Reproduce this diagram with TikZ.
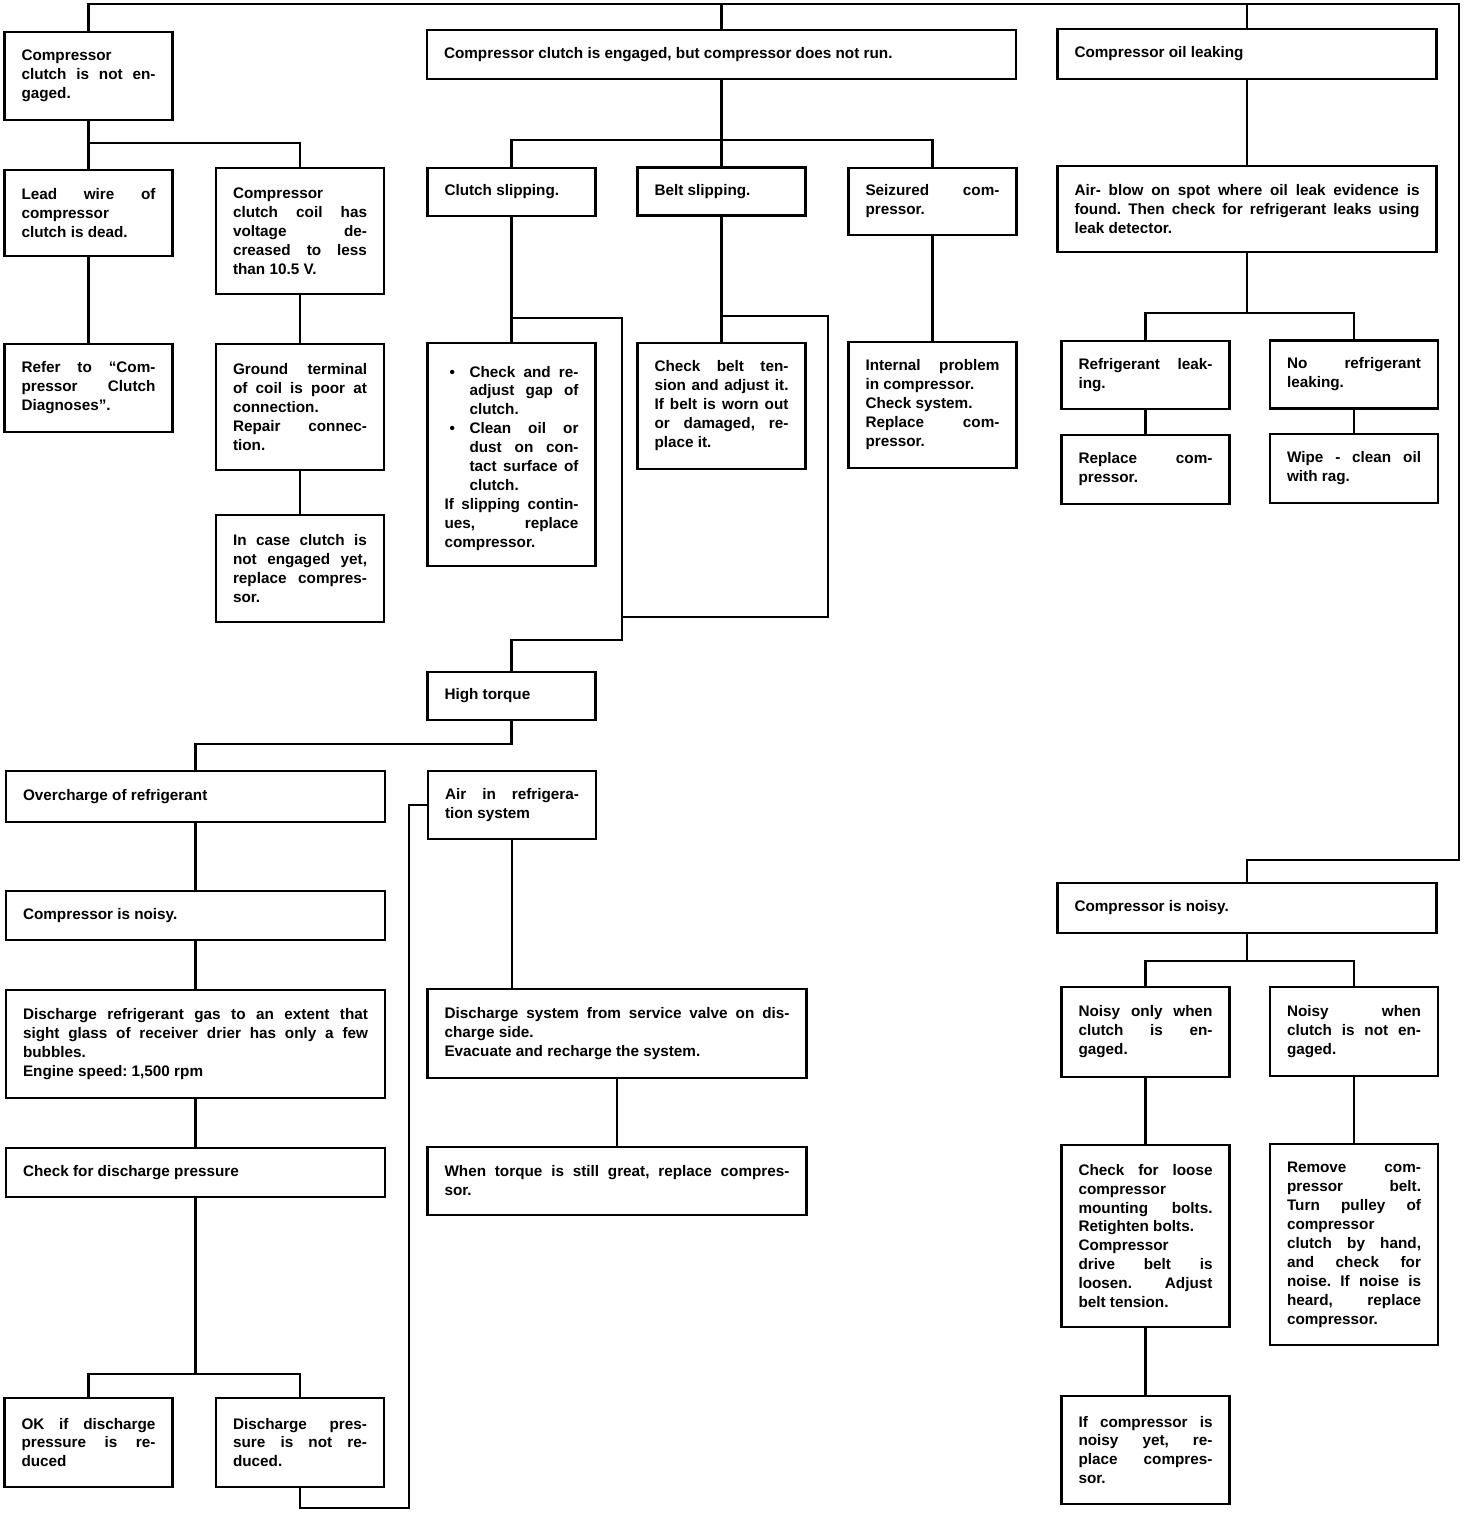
\documentclass[tikz,border=0pt]{standalone}
\usepackage{fontspec}
\setmainfont{Liberation Sans}
\tolerance=10000
\hbadness=10000
\frenchspacing
\newcommand{\chkitem}{\par\noindent\hangindent=0.5cm\hangafter=1\makebox[0.5cm][l]{\hspace{0.1cm}\textbullet}}

\begin{document}
\begin{tikzpicture}[line width=1.4pt,
  tbox/.style={draw, rectangle, line width=1.6pt, inner xsep=0.34cm, inner ysep=2pt, align=justify, font={\fontsize{8.7}{10.8}\selectfont\bfseries\parindent=0pt}},
  narrow/.style={tbox, text width=2.68cm},
  wide/.style={tbox, text width=6.90cm}]
\useasboundingbox (0cm,0cm) rectangle (29.44cm,-30.28cm);
\node[narrow, minimum height=1.76cm] (A1) at (1.77cm,-1.52cm) {Compressor\newline clutch is not en-\linebreak gaged.};
\node[narrow, minimum height=1.72cm] (A2) at (1.77cm,-4.26cm) {Lead wire of\linebreak compressor\newline clutch is dead.};
\node[narrow, minimum height=2.52cm] (A3) at (6.00cm,-4.62cm) {Compressor\newline clutch coil has\linebreak voltage de-\linebreak creased to less\linebreak than 10.5 V.};
\node[narrow, minimum height=1.76cm] (A4) at (1.77cm,-7.76cm) {Refer to ``Com-\linebreak pressor Clutch\linebreak Diagnoses''.};
\node[narrow, minimum height=2.52cm] (A5) at (6.00cm,-8.14cm) {Ground terminal\linebreak of coil is poor at\linebreak connection.\newline Repair connec-\linebreak tion.};
\node[narrow, minimum height=2.14cm] (A6) at (6.00cm,-11.37cm) {In case clutch is\linebreak not engaged yet,\linebreak replace compres-\linebreak sor.};
\node[tbox, text width=11.10cm, minimum height=0.98cm] (B1) at (14.43cm,-1.09cm) {Compressor clutch is engaged, but compressor does not run.};
\node[narrow, minimum height=0.96cm] (B2) at (10.23cm,-3.84cm) {Clutch slipping.};
\node[narrow, minimum height=0.96cm] (B3) at (14.43cm,-3.83cm) {Belt slipping.};
\node[narrow, minimum height=1.34cm] (B4) at (18.65cm,-4.03cm) {Seizured com-\linebreak pressor.};
\node[narrow, minimum height=4.46cm] (B5) at (10.23cm,-9.09cm) {\chkitem Check and re-\linebreak adjust gap of\linebreak clutch.\chkitem Clean oil or\linebreak dust on con-\linebreak tact surface of\linebreak clutch.\par\noindent If slipping contin-\linebreak ues, replace\linebreak compressor.};
\node[narrow, minimum height=2.52cm] (B6) at (14.43cm,-8.12cm) {Check belt ten-\linebreak sion and adjust it.\linebreak If belt is worn out\linebreak or damaged, re-\linebreak place it.};
\node[narrow, minimum height=2.52cm] (B7) at (18.65cm,-8.10cm) {Internal problem\linebreak in compressor.\newline Check system.\newline Replace com-\linebreak pressor.};
\node[narrow, minimum height=0.96cm] (B8) at (10.23cm,-13.92cm) {High torque};
\node[wide, minimum height=1.02cm] (B9) at (3.91cm,-15.93cm) {Overcharge of refrigerant};
\node[narrow, minimum height=1.36cm] (B10) at (10.24cm,-16.10cm) {Air in refrigera-\linebreak tion system};
\node[wide, minimum height=0.98cm] (C1) at (3.91cm,-18.31cm) {Compressor is noisy.};
\node[wide, minimum height=2.16cm] (C2) at (3.91cm,-20.88cm) {Discharge refrigerant gas to an extent that\linebreak sight glass of receiver drier has only a few\linebreak bubbles.\newline Engine speed: 1,500 rpm};
\node[wide, minimum height=0.98cm] (C3) at (3.91cm,-23.45cm) {Check for discharge pressure};
\node[narrow, minimum height=1.78cm] (C4) at (1.77cm,-28.85cm) {OK if discharge\linebreak pressure is re-\linebreak duced};
\node[narrow, minimum height=1.78cm] (C5) at (6.00cm,-28.85cm) {Discharge pres-\linebreak sure is not re-\linebreak duced.};
\node[wide, minimum height=1.78cm] (D1) at (12.34cm,-20.67cm) {Discharge system from service valve on dis-\linebreak charge side.\newline Evacuate and recharge the system.};
\node[wide, minimum height=1.36cm] (D2) at (12.34cm,-23.62cm) {When torque is still great, replace compres-\linebreak sor.};
\node[wide, minimum height=1.00cm] (E1) at (24.94cm,-1.08cm) {Compressor oil leaking};
\node[wide, minimum height=1.72cm] (E2) at (24.94cm,-4.18cm) {Air- blow on spot where oil leak evidence is\linebreak found. Then check for refrigerant leaks using\linebreak leak detector.};
\node[narrow, minimum height=1.36cm] (E3) at (22.91cm,-7.50cm) {Refrigerant leak-\linebreak ing.};
\node[narrow, minimum height=1.36cm] (E4) at (27.08cm,-7.49cm) {No refrigerant\linebreak leaking.};
\node[narrow, minimum height=1.38cm] (E5) at (22.91cm,-9.39cm) {Replace com-\linebreak pressor.};
\node[narrow, minimum height=1.38cm] (E6) at (27.08cm,-9.37cm) {Wipe - clean oil\linebreak with rag.};
\node[wide, minimum height=1.00cm] (F1) at (24.94cm,-18.16cm) {Compressor is noisy.};
\node[narrow, minimum height=1.80cm] (F2) at (22.91cm,-20.64cm) {Noisy only when\linebreak clutch is en-\linebreak gaged.};
\node[narrow, minimum height=1.78cm] (F3) at (27.08cm,-20.63cm) {Noisy when\linebreak clutch is not en-\linebreak gaged.};
\node[narrow, minimum height=3.64cm] (F4) at (22.91cm,-24.72cm) {Check for loose\linebreak compressor\newline mounting bolts.\linebreak Retighten bolts.\newline Compressor\newline drive belt is\linebreak loosen. Adjust\linebreak belt tension.};
\node[narrow, minimum height=4.02cm] (F5) at (27.08cm,-24.89cm) {Remove com-\linebreak pressor belt.\linebreak Turn pulley of\linebreak compressor\newline clutch by hand,\linebreak and check for\linebreak noise. If noise is\linebreak heard, replace\linebreak compressor.};
\node[narrow, minimum height=2.16cm] (F6) at (22.91cm,-29.00cm) {If compressor is\linebreak noisy yet, re-\linebreak place compres-\linebreak sor.};
\coordinate (topR) at (29.18cm,-0.08cm);
\coordinate (bendR) at (29.18cm,-17.20cm);
\draw (A1.north) |- (topR) -- (bendR) -| (F1.north);
\draw (B1.north) -- (B1.north |- topR);
\draw (E1.north) -- (E1.north |- topR);
\coordinate (forkA) at (1.77cm,-2.86cm);
\draw (A1) -- (A2);
\draw (A3.north) |- (forkA);
\draw (A2) -- (A4);
\draw (A3) -- (A5);
\draw (A5) -- (A6);
\coordinate (forkB) at (14.43cm,-2.80cm);
\draw (B1) -- (B3);
\draw (B2.north) |- (forkB) -| (B4.north);
\draw (B2) -- (B5);
\draw (B3) -- (B6);
\draw (B4) -- (B7);
\coordinate (clutchR) at (12.44cm,-6.36cm);
\coordinate (joinT) at (12.44cm,-12.80cm);
\coordinate (beltR) at (16.56cm,-6.32cm);
\coordinate (beltB) at (16.56cm,-12.34cm);
\draw (B5.north |- clutchR) -- (clutchR) -- (joinT) -| (B8.north);
\draw (B6.north |- beltR) -- (beltR) -- (beltB) -- (beltB -| clutchR);
\coordinate (torqueB) at (10.23cm,-14.88cm);
\draw (B8) -- (torqueB) -| (B9.north);
\draw (B9) -- (C1);
\draw (C1) -- (C2);
\draw (C2) -- (C3);
\coordinate (forkC) at (3.91cm,-27.48cm);
\draw (C3) -- (forkC);
\draw (C4.north) |- (forkC) -| (C5.north);
\coordinate (airB) at (8.18cm,-30.16cm);
\draw (C5.south) |- (airB) |- (B10.west);
\draw (B10.south) -- (B10.south |- D1.north);
\draw (D1) -- (D2);
\draw (E1) -- (E2);
\coordinate (forkE) at (24.94cm,-6.26cm);
\draw (E2) -- (forkE);
\draw (E3.north) |- (forkE) -| (E4.north);
\draw (E3) -- (E5);
\draw (E4) -- (E6);
\coordinate (forkF) at (24.94cm,-19.22cm);
\draw (F1) -- (forkF);
\draw (F2.north) |- (forkF) -| (F3.north);
\draw (F2) -- (F4);
\draw (F4) -- (F6);
\draw (F3) -- (F5);
\end{tikzpicture}
\end{document}
